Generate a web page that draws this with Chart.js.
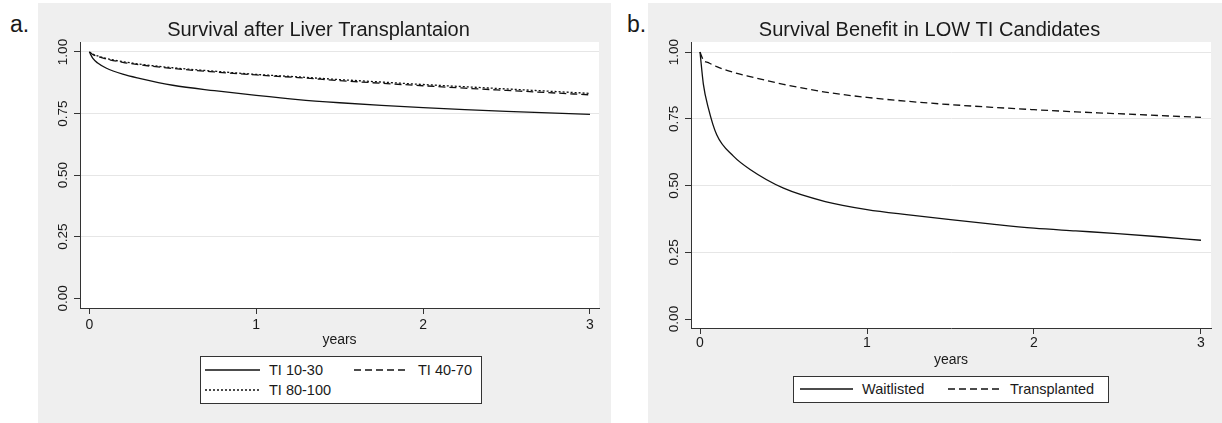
<!DOCTYPE html>
<html>
<head>
<meta charset="utf-8">
<script src="https://cdn.jsdelivr.net/npm/chart.js@4"></script>
<style>
  html, body {
    margin: 0;
    padding: 0;
    width: 1222px;
    height: 423px;
    overflow: hidden;
    position: relative;
    background: #fff;
    font-family: "Liberation Sans", Arial, sans-serif;
    color: #1a1a1a;
  }
  .panel { position: absolute; top: 3px; height: 420px; background: #efefef; }
  .tag { position: absolute; font-size: 23px; line-height: 1; }
  canvas { position: absolute; top: 3px; }
  .legend {
    position: absolute;
    background: #fff;
    border: 1px solid #333;
    box-sizing: border-box;
    font-size: 14.5px;
  }
  .legend .item { position: absolute; display: flex; align-items: center; height: 20px; white-space: nowrap; }
  .legend svg { margin-right: 9px; }
</style>
</head>
<body>
<div class="panel" style="left:38px;width:573px"></div>
<div class="panel" style="left:648px;width:574px"></div>
<div class="tag" style="left:10px;top:13px">a.</div>
<div class="tag" style="left:627px;top:13px">b.</div>
<canvas id="chartA" width="603" height="420" style="left:38px"></canvas>
<canvas id="chartB" width="606" height="420" style="left:648px"></canvas>
<div id="legendA" class="legend" style="left:200px;top:356px;width:282px;height:48px"></div>
<div id="legendB" class="legend" style="left:793px;top:376px;width:316px;height:27px"></div>

<script>
// years since listing / transplant
const years = [0, 0.02, 0.05, 0.1, 0.2, 0.3, 0.5, 0.75, 1, 1.25, 1.5, 1.75, 2, 2.25, 2.5, 2.75, 3];

// a. survival after liver transplantation by TI group
const ti1030 = [1.0, 0.975, 0.955, 0.935, 0.91, 0.893, 0.865, 0.843, 0.824, 0.807, 0.794, 0.783, 0.774, 0.766, 0.759, 0.753, 0.747];
const ti4070 = [1.0, 0.99, 0.982, 0.972, 0.958, 0.948, 0.933, 0.919, 0.907, 0.896, 0.884, 0.873, 0.863, 0.853, 0.844, 0.835, 0.826];
const ti80100 = [1.0, 0.992, 0.984, 0.974, 0.961, 0.951, 0.936, 0.922, 0.909, 0.899, 0.888, 0.878, 0.868, 0.859, 0.85, 0.841, 0.832];

// b. low TI candidates
const waitlisted = [1.0, 0.88, 0.79, 0.69, 0.61, 0.56, 0.49, 0.44, 0.41, 0.39, 0.372, 0.355, 0.34, 0.33, 0.32, 0.308, 0.295];
const transplanted = [1.0, 0.97, 0.96, 0.945, 0.924, 0.908, 0.879, 0.85, 0.83, 0.815, 0.803, 0.793, 0.784, 0.776, 0.769, 0.762, 0.755];

const xTicks = [0, 1, 2, 3];
const xTickLabels = ["0", "1", "2", "3"];
const yTicks = [0, 0.25, 0.5, 0.75, 1];
const yTickLabels = ["0.00", "0.25", "0.50", "0.75", "1.00"];

const INK = "#1a1a1a";
const AXIS = "#333";

// white plot region on the grey panel
const plotBg = {
  id: "plotBg",
  beforeDraw(chart) {
    const { ctx, chartArea: a } = chart;
    ctx.save();
    ctx.fillStyle = "#fff";
    ctx.fillRect(a.left, a.top, a.right - a.left, a.bottom - a.top);
    ctx.restore();
  },
};

function series(label, values, dash) {
  return {
    label: label,
    data: values.map((v, i) => ({ x: years[i], y: v })),
    borderColor: "#111",
    borderWidth: 1.3,
    borderDash: dash,
    pointRadius: 0,
    fill: false,
    cubicInterpolationMode: "monotone",
  };
}

function makeChart(id, title, datasets, box) {
  const ctx = document.getElementById(id).getContext("2d");
  return new Chart(ctx, {
    type: "line",
    data: { datasets: datasets },
    plugins: [plotBg],
    options: {
      responsive: false,
      animation: false,
      layout: { padding: { left: 0, right: box.yWidth, top: 0, bottom: box.padBottom } },
      plugins: {
        legend: { display: false },
        tooltip: { enabled: false },
        title: {
          display: true,
          text: title,
          color: INK,
          font: { size: 20, weight: "normal" },
          padding: { top: 15, bottom: 0 },
        },
      },
      scales: {
        x: {
          type: "linear",
          min: box.xMin,
          max: box.xMax,
          afterBuildTicks: (s) => { s.ticks = xTicks.map((v) => ({ value: v })); },
          afterFit: (s) => { s.height = 40.4; },
          grid: { drawOnChartArea: false, tickLength: 6, tickColor: AXIS },
          border: { color: AXIS, width: 1 },
          ticks: {
            color: INK,
            font: { size: 14 },
            padding: box.xPad,
            maxRotation: 0,
            callback: (v, i) => xTickLabels[i],
          },
          title: { display: true, text: "years", color: INK, font: { size: 14 }, padding: 0 },
        },
        y: {
          type: "linear",
          min: box.yMin,
          max: box.yMax,
          afterBuildTicks: (s) => { s.ticks = yTicks.map((v) => ({ value: v })); },
          afterFit: (s) => { s.width = box.yWidth; },
          grid: {
            color: (c) => (c.tick && c.tick.value === 0 ? "rgba(0,0,0,0)" : "#e6e6e6"),
            tickColor: AXIS,
            tickLength: 6,
          },
          border: { color: AXIS, width: 1 },
          ticks: {
            color: INK,
            font: { size: 13.5 },
            minRotation: 90,
            maxRotation: 90,
            crossAlign: "center",
            padding: -2,
            callback: (v, i) => yTickLabels[i],
          },
        },
      },
    },
  });
}

function buildLegend(chart, boxId, slots, sampleWidth) {
  const box = document.getElementById(boxId);
  chart.data.datasets.forEach((ds, i) => {
    const item = document.createElement("div");
    item.className = "item";
    item.style.left = slots[i][0] + "px";
    item.style.top = slots[i][1] + "px";
    const dash = (ds.borderDash || []).join(" ");
    item.innerHTML =
      `<svg width="${sampleWidth}" height="4"><line x1="0" y1="2" x2="${sampleWidth}" y2="2" ` +
      `stroke="#111" stroke-width="1.3" stroke-dasharray="${dash}"/></svg><span>${ds.label}</span>`;
    box.appendChild(item);
  });
}

const chartA = makeChart(
  "chartA",
  "Survival after Liver Transplantaion",
  [
    series("TI 10-30", ti1030, []),
    series("TI 40-70", ti4070, [7, 4]),
    series("TI 80-100", ti80100, [2, 2]),
  ],
  { xMin: -0.056, xMax: 3.054, yMin: -0.0394, yMax: 1.0406, yWidth: 42, padBottom: 74.6, xPad: 2.5 }
);

const chartB = makeChart(
  "chartB",
  "Survival Benefit in LOW TI Candidates",
  [
    series("Waitlisted", waitlisted, []),
    series("Transplanted", transplanted, [7, 4]),
  ],
  { xMin: -0.054, xMax: 3.06, yMin: -0.0337, yMax: 1.0375, yWidth: 43, padBottom: 54.6, xPad: 0.5 }
);

buildLegend(chartA, "legendA", [[4, 3], [153, 3], [4, 23]], 55);
buildLegend(chartB, "legendB", [[6, 2], [154, 2]], 53);
</script>
</body>
</html>
